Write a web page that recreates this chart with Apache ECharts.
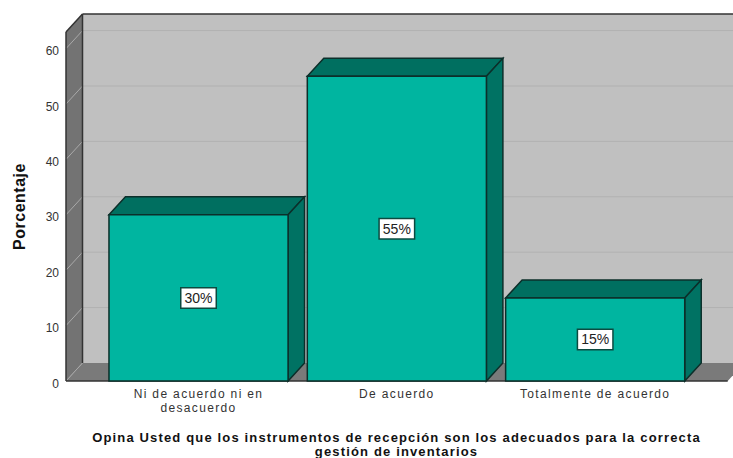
<!DOCTYPE html>
<html><head><meta charset="utf-8">
<style>
html,body{margin:0;padding:0;background:#fff}
#c{width:733px;height:458px}
</style>
<script src="https://cdn.jsdelivr.net/npm/echarts@6/dist/echarts.min.js"></script>
</head><body><div id="c"></div>
<script>
const categories = ['Ni de acuerdo ni en\ndesacuerdo', 'De acuerdo', 'Totalmente de acuerdo'];
const values = [30, 55, 15];
const dataLabels = ['30%', '55%', '15%'];
const yTicks = [0, 10, 20, 30, 40, 50, 60];
const yMax = 63;
const xTitle = 'Opina Usted que los instrumentos de recepción son los adecuados para la correcta\ngestión de inventarios';
const yTitle = 'Porcentaje';

const DX = 16.5, DY = 18, MARGIN = 33.35, BAR = 0.903;
const INK = '#0c2f2a', WALL_INK = '#333333';
const poly = (points, fill, stroke, lw) => ({
  type: 'polygon', shape: { points },
  style: { fill, stroke: stroke || 'none', lineWidth: lw || 0 }
});
const seg = (a, b, stroke, lw) => ({
  type: 'line', shape: { x1: a[0], y1: a[1], x2: b[0], y2: b[1] },
  style: { stroke, lineWidth: lw, fill: 'none' }
});

function renderWalls(params, api) {
  const band = api.size([1, 0])[0];
  const L = api.coord([0, 0])[0] - band / 2 - MARGIN;
  const R = api.coord([2, 0])[0] + band / 2 + MARGIN;
  const y0 = api.coord([0, 0])[1], yT = api.coord([0, yMax])[1];
  const kids = [
    poly([[L + DX, yT - DY], [R + DX, yT - DY], [R + DX, y0 - DY], [L + DX, y0 - DY]], '#c0c0c0'),
    poly([[L, y0], [R, y0], [R + DX, y0 - DY], [L + DX, y0 - DY]], '#7a7a7a'),
    poly([[L, yT], [L + DX, yT - DY], [L + DX, y0 - DY], [L, y0]], '#737373')
  ];
  yTicks.forEach(t => {
    const y = api.coord([0, t])[1];
    if (t > 0) kids.push(seg([L + DX, y - DY], [R + DX, y - DY], '#b1b1b1', 1));
    kids.push(seg([L, y], [L + DX, y - DY], '#a9a9a9', 1));
  });
  kids.push(
    seg([L, yT], [L + DX, yT - DY], WALL_INK, 1.5),
    seg([L + DX, yT - DY], [R + DX, yT - DY], WALL_INK, 1.5),
    seg([L + DX, yT - DY], [L + DX, y0 - DY], WALL_INK, 1.5),
    seg([L, yT], [L, y0], WALL_INK, 1.5),
    seg([L, y0], [R, y0], WALL_INK, 1.5)
  );
  return { type: 'group', children: kids };
}

function renderBar(params, api) {
  const i = api.value(0), v = api.value(1);
  const w = api.size([1, 0])[0] * BAR;
  const c = api.coord([i, 0]), t = api.coord([i, v]);
  const l = c[0] - w / 2, r = c[0] + w / 2;
  return {
    type: 'group',
    children: [
      poly([[l, t[1]], [l + DX, t[1] - DY], [r + DX, t[1] - DY], [r, t[1]]], '#006f60', INK, 1.5),
      poly([[r, t[1]], [r + DX, t[1] - DY], [r + DX, c[1] - DY], [r, c[1]]], '#007263', INK, 1.5),
      poly([[l, t[1]], [r, t[1]], [r, c[1]], [l, c[1]]], '#00b5a0', INK, 1.5),
      {
        type: 'text', z2: 10,
        style: {
          x: c[0], y: (c[1] + t[1]) / 2, text: dataLabels[i], align: 'center', verticalAlign: 'middle',
          font: '14px "Liberation Sans"', fill: '#222',
          backgroundColor: '#fff', borderColor: '#0c4a40', borderWidth: 1.5, padding: [3, 3, 2, 3]
        }
      }
    ]
  };
}

const chart = echarts.init(document.getElementById('c'), null, { renderer: 'svg', width: 733, height: 458 });
chart.setOption({
  animation: false,
  backgroundColor: '#fff',
  textStyle: { fontFamily: '"Liberation Sans"' },
  title: {
    text: xTitle, left: 396.5, top: 430, textAlign: 'center', padding: 0,
    textStyle: { fontFamily: '"Liberation Sans"', fontWeight: 'bold', fontSize: 13, color: '#111', lineHeight: 14 }
  },
  grid: { left: 99.35, width: 595, top: 32, height: 349 },
  xAxis: {
    type: 'category', data: categories,
    axisLine: { show: false }, axisTick: { show: false },
    axisLabel: { color: '#333', fontSize: 12, lineHeight: 14, margin: 6, interval: 0 }
  },
  yAxis: {
    type: 'value', min: 0, max: yMax, interval: 10, offset: MARGIN,
    name: yTitle, nameLocation: 'middle', nameGap: 39,
    nameTextStyle: { fontSize: 16, fontWeight: 'bold', color: '#111' },
    axisLine: { show: false }, axisTick: { show: false }, splitLine: { show: false },
    axisLabel: {
      margin: 7, customValues: yTicks, formatter: '{n|{value}}',
      rich: { n: { color: '#333', fontSize: 12, padding: [5, 0, 0, 0] } }
    }
  },
  series: [
    { type: 'custom', renderItem: renderWalls, data: [[0, 0]], clip: false, silent: true, z: 1 },
    { type: 'custom', renderItem: renderBar, data: values.map((v, i) => [i, v]), clip: false, silent: true, z: 2 }
  ]
});

// The reference's text is tracked wider than the installed fonts; apply per-text letter spacing.
const titleLines = xTitle.split('\n');
document.querySelectorAll('#c svg text').forEach(el => {
  const s = el.textContent;
  let ls = 1.35;
  if (titleLines.includes(s)) ls = 1.15;
  else if (s === yTitle) ls = 0.5;
  else if (dataLabels.includes(s) || yTicks.map(String).includes(s)) ls = 0;
  el.style.letterSpacing = ls + 'px';
});
</script></body></html>
